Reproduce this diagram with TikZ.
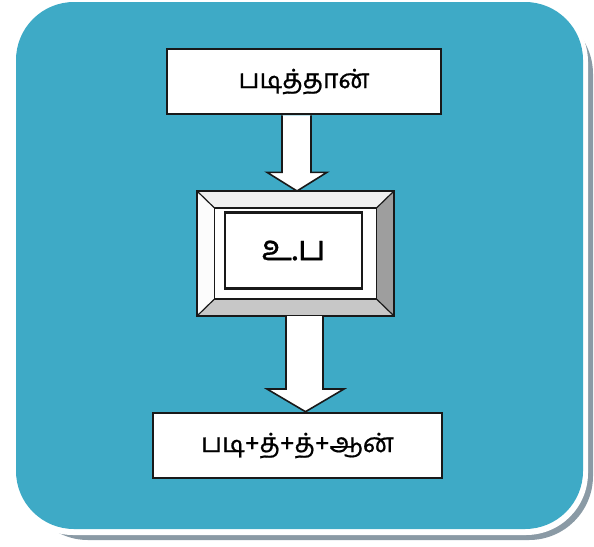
\documentclass[tikz,border=0pt]{standalone}
\usepackage{fontspec}
\newfontfamily\tamil[Script=Tamil, FakeBold=0.7]{Hind Madurai}
\usetikzlibrary{calc}
\definecolor{panelblue}{RGB}{62,170,198}
\definecolor{shadowgrey}{RGB}{138,154,165}
\begin{document}
\begin{tikzpicture}[x=1pt, y=-1pt,
  wordbox/.style={draw=black!90, line width=2.6pt, fill=white, font=\tamil\fontsize{26.5}{30}\selectfont},
  blockarrow/.style={draw=black!90, line width=1.6pt, fill=white, line join=miter}]
  \useasboundingbox (0,0) rectangle (594,546);
  % panel with its white rim and shadow
  \fill[shadowgrey, rounded corners=64pt] (24,10) rectangle (593,540);
  \fill[white, rounded corners=62pt] (11,0) rectangle (588,535);
  \fill[panelblue, rounded corners=58pt] (16,2) rectangle (583,529);

  \node[wordbox, minimum width=274pt, minimum height=65pt] (top) at (304,81.5) {படித்தான்};
  \node[wordbox, minimum width=289pt, minimum height=65pt] (bot) at (297.5,445.5) {படி+த்+த்+ஆன்};

  % bevelled frame
  \node[draw=black!90, line width=2pt, minimum width=195pt, minimum height=123pt] (mid) at (295.5,253.5) {};
  \node[minimum width=162pt, minimum height=91pt] (bev) at (mid.center) {};
  \fill[black!6] (mid.north west) -- (mid.north east) -- (bev.north east) -- (bev.north west) -- cycle;
  \fill[black!1] (mid.north west) -- (mid.south west) -- (bev.south west) -- (bev.north west) -- cycle;
  \fill[black!38] (mid.north east) -- (mid.south east) -- (bev.south east) -- (bev.north east) -- cycle;
  \fill[black!22] (mid.south west) -- (mid.south east) -- (bev.south east) -- (bev.south west) -- cycle;
  \draw[black!90, line width=1.2pt] (mid.north west) -- (bev.north west) (mid.north east) -- (bev.north east)
    (mid.south west) -- (bev.south west) (mid.south east) -- (bev.south east);
  \node[draw=black!90, line width=1.4pt, fill=white, minimum width=162pt, minimum height=91pt] at (mid.center) {};
  \node[draw=black!90, line width=2.2pt, minimum width=137pt, minimum height=76pt,
    font=\tamil\fontsize{35}{40}\selectfont] (sub) at ($(mid.center)+(-2,-3)$) {உ.ப};
  \draw[black!90, line width=2.2pt] (mid.north west) rectangle (mid.south east);

  % arrows
  \filldraw[blockarrow] ($(top.south)+(-22,0)$) -- ++(0,57) -- ++(-15,0) -- ($(mid.north)+(1.5,0)$)
    -- ($(top.south)+(23,57)$) -- ++(-16,0) -- ($(top.south)+(7,0)$);
  \filldraw[blockarrow] ($(mid.south)+(-9.5,0)$) -- ++(0,73) -- ++(-19,0) -- ($(bot.north)+(8,0)$)
    -- ($(mid.south)+(48.5,73)$) -- ++(-21,0) -- ($(mid.south)+(27.5,0)$);
\end{tikzpicture}
\end{document}
